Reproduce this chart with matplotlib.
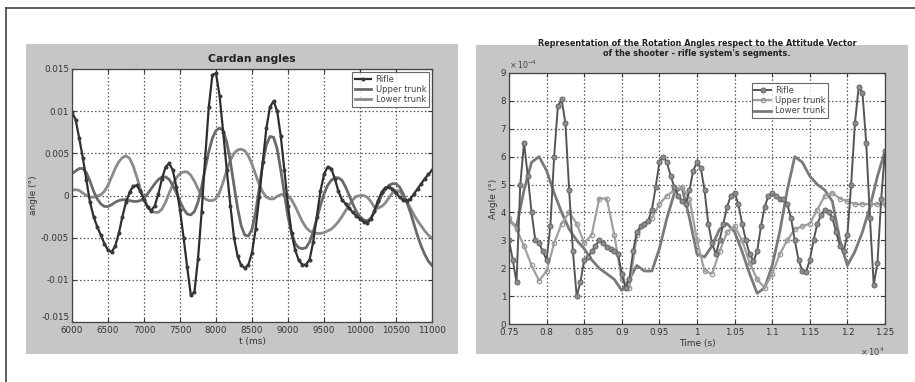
import matplotlib
matplotlib.use("Agg")
import matplotlib.pyplot as plt
from matplotlib.patches import Rectangle
from matplotlib.ticker import FuncFormatter
import numpy as np

plt.rcParams['font.family'] = ['DejaVu Sans']

# ---------------- Left chart data (Cardan angles) ----------------
left_t_start = 6000
left_t_step = 50
left_rifle = [
    0.0099, 0.0090, 0.0068, 0.0045, 0.0018, -0.0008, -0.0025, -0.0037, -0.0047, -0.0057,
    -0.0065, -0.0067, -0.0060, -0.0045, -0.0025, -0.0008, 0.0004, 0.0011, 0.0012, 0.0005,
    -0.0005, -0.0014, -0.0018, -0.0012, 0.0002, 0.0020, 0.0034, 0.0038, 0.0030, 0.0010,
    -0.0017, -0.0050, -0.0085, -0.0118, -0.0115, -0.0075, -0.0020, 0.0045, 0.0105, 0.0143,
    0.0145, 0.0118, 0.0075, 0.0030, -0.0012, -0.0050, -0.0072, -0.0083, -0.0086, -0.0082,
    -0.0068, -0.0040, -0.0002, 0.0040, 0.0080, 0.0105, 0.0112, 0.0100, 0.0070, 0.0030,
    -0.0012, -0.0045, -0.0065, -0.0077, -0.0082, -0.0082, -0.0076, -0.0055, -0.0025, 0.0005,
    0.0025, 0.0034, 0.0032, 0.0020, 0.0005, -0.0005, -0.0010, -0.0015, -0.0020, -0.0024,
    -0.0028, -0.0031, -0.0033, -0.0028, -0.0018, -0.0006, 0.0004, 0.0009, 0.0010, 0.0008,
    0.0003, -0.0002, -0.0005, -0.0006, -0.0004, 0.0002, 0.0008, 0.0014, 0.0020, 0.0025,
    0.0030]
left_upper = [
    0.0026, 0.0029, 0.0032, 0.0032, 0.0027, 0.0017, 0.0005, -0.0004, -0.0010, -0.0013,
    -0.0013, -0.0011, -0.0008, -0.0006, -0.0005, -0.0005, -0.0006, -0.0007, -0.0007, -0.0006,
    -0.0003, 0.0002, 0.0008, 0.0014, 0.0019, 0.0022, 0.0022, 0.0019, 0.0012, 0.0003,
    -0.0007, -0.0016, -0.0022, -0.0023, -0.0019, -0.0008, 0.0010, 0.0032, 0.0052, 0.0068,
    0.0077, 0.0080, 0.0077, 0.0063, 0.0040, 0.0012, -0.0015, -0.0036, -0.0047, -0.0048,
    -0.0040, -0.0020, 0.0008, 0.0038, 0.0060, 0.0070, 0.0069, 0.0055, 0.0030, 0.0002,
    -0.0025, -0.0045, -0.0057, -0.0062, -0.0063, -0.0062, -0.0055, -0.0043, -0.0028, -0.0012,
    0.0002, 0.0012, 0.0018, 0.0021, 0.0021, 0.0018, 0.0010, 0.0000, -0.0010, -0.0019,
    -0.0025, -0.0029, -0.0030, -0.0027, -0.0020, -0.0010, 0.0000, 0.0007, 0.0012, 0.0014,
    0.0014, 0.0010, 0.0002, -0.0008, -0.0020, -0.0034, -0.0048, -0.0060, -0.0070, -0.0078,
    -0.0083]
left_lower = [
    0.0006, 0.0007, 0.0006, 0.0003, 0.0000, -0.0002, -0.0002, -0.0001, 0.0001, 0.0005,
    0.0012, 0.0022, 0.0032, 0.0040, 0.0045, 0.0047, 0.0044, 0.0035, 0.0022, 0.0008,
    -0.0004, -0.0013, -0.0018, -0.0020, -0.0020, -0.0016, -0.0008, 0.0003, 0.0013, 0.0021,
    0.0026, 0.0028, 0.0028, 0.0024, 0.0017, 0.0008, 0.0000, -0.0004, -0.0006, -0.0006,
    -0.0004, 0.0004, 0.0016, 0.0030, 0.0042, 0.0050, 0.0054, 0.0055, 0.0053, 0.0047,
    0.0037, 0.0025, 0.0013, 0.0004, -0.0002, -0.0004, -0.0004, -0.0001, 0.0001, 0.0002,
    0.0000, -0.0005, -0.0013, -0.0022, -0.0031, -0.0038, -0.0042, -0.0044, -0.0045, -0.0045,
    -0.0044, -0.0042, -0.0040, -0.0036, -0.0031, -0.0025, -0.0018, -0.0011, -0.0005, -0.0001,
    0.0000, 0.0000, -0.0002, -0.0007, -0.0014, -0.0015, -0.0013, -0.0009, -0.0003, 0.0003,
    0.0006, 0.0005, 0.0000, -0.0007, -0.0015, -0.0023, -0.0030, -0.0036, -0.0042, -0.0047,
    -0.0051]
left_xticks = [6000, 6500, 7000, 7500, 8000, 8500, 9000, 9500, 10000, 10500, 11000]
left_yticks = [-0.015, -0.01, -0.005, 0, 0.005, 0.01, 0.015]
left_labels = ['Rifle', 'Upper trunk', 'Lower trunk']

# ---------------- Right chart data (x in 1e4 s, y in 1e-4 deg) ----------------
right_rifle_t0 = 0.75
right_rifle_step = 0.005
right_rifle = [
    3.0, 2.3, 1.5, 5.0, 6.5, 5.3, 4.0, 3.0, 2.9, 2.6,
    2.3, 3.5, 6.0, 7.8, 8.05, 7.2, 4.8, 2.6, 1.0, 1.5,
    2.3, 2.4, 2.6, 2.8, 3.0, 2.9, 2.75, 2.7, 2.6, 2.5,
    1.8, 1.3, 1.6, 2.6, 3.3, 3.5, 3.6, 3.7, 4.1, 4.9,
    5.8, 6.0, 5.8, 5.3, 4.9, 4.6, 4.4, 4.3, 4.8, 5.5,
    5.8, 5.6, 4.8, 3.6, 2.9, 2.5, 3.0, 3.6, 4.2, 4.6,
    4.7, 4.3, 3.6, 3.0, 2.5, 2.25, 2.6, 3.5, 4.2, 4.6,
    4.7, 4.6, 4.5, 4.5, 4.3, 3.8, 3.0, 2.3, 1.9, 1.85,
    2.3, 3.0, 3.6, 3.9, 4.1, 4.0, 3.8, 3.3, 2.8, 2.6,
    3.2, 5.0, 7.2, 8.5, 8.3, 6.5, 3.8, 1.4, 2.2, 4.5,
    6.2]
right_trunk_t0 = 0.75
right_trunk_step = 0.01
right_upper = [
    3.8, 3.4, 2.8, 2.1, 1.55, 1.9, 2.9, 3.6, 4.0, 3.6,
    2.9, 3.2, 4.5, 4.5, 3.2, 1.6, 1.3, 3.2, 3.6, 3.8,
    4.3, 4.6, 4.8, 4.9, 4.5, 3.0, 1.9, 1.8, 2.6, 3.3,
    3.5, 3.0, 2.2, 1.6, 1.3, 1.8, 2.5, 3.0, 3.4, 3.5,
    3.6, 4.1, 4.6, 4.7, 4.5, 4.4, 4.3, 4.3, 4.3, 4.3,
    4.3]
right_lower = [
    3.7, 3.5, 4.8, 5.8, 6.0, 5.5, 4.7, 4.0, 3.4, 3.0,
    2.7, 2.3, 2.0, 1.8, 1.6, 1.2, 1.6, 2.1, 1.9, 1.9,
    2.7, 3.8, 4.7, 4.9, 3.8, 2.5, 2.4, 2.8, 3.4, 3.6,
    3.3, 2.6, 1.8, 1.1, 1.3, 2.1, 3.3, 4.8, 6.0, 5.8,
    5.3, 5.0, 4.8, 4.4, 3.0, 2.1, 2.6, 3.3, 4.2, 5.3,
    6.2]
right_xticks = [0.75, 0.8, 0.85, 0.9, 0.95, 1.0, 1.05, 1.1, 1.15, 1.2, 1.25]
right_yticks = [0, 1, 2, 3, 4, 5, 6, 7, 8, 9]
right_labels = ['Rifle', 'Upper trunk', 'Lower trunk']

W, H = 915, 382
fig = plt.figure(figsize=(W / 100, H / 100), dpi=100, facecolor='white')


def fx(px):
    return px / W


def fy(py):
    return 1 - py / H


# outer frame lines
fig.add_artist(plt.Line2D([fx(6), fx(6)], [0, fy(8)], color='#444444', lw=1.2))
fig.add_artist(plt.Line2D([fx(6), 1.0], [fy(8), fy(8)], color='#444444', lw=1.2))

panel_grey = '#c6c6c6'
fig.add_artist(Rectangle((fx(26), fy(354)), fx(458) - fx(26), fy(44) - fy(354),
                         transform=fig.transFigure, facecolor=panel_grey, edgecolor='none', zorder=0))
fig.add_artist(Rectangle((fx(476), fy(354)), fx(908) - fx(476), fy(45) - fy(354),
                         transform=fig.transFigure, facecolor=panel_grey, edgecolor='none', zorder=0))

fmt_g = FuncFormatter(lambda v, p: '%g' % round(v, 6))


def style_axes(ax):
    ax.set_facecolor('white')
    ax.tick_params(direction='in', labelsize=6.3, colors='#333333', length=3,
                   top=True, right=True, pad=2)
    ax.tick_params(axis='x', pad=3)
    ax.grid(True, linestyle=(0, (1.2, 1.8)), color='#555555', lw=0.9)
    for s in ax.spines.values():
        s.set_color('#444444')
        s.set_linewidth(0.9)
    ax.set_axisbelow(True)


# ---------------- Left axes ----------------
axL = fig.add_axes([fx(72), fy(322), fx(432) - fx(72), fy(69) - fy(322)], zorder=2)
style_axes(axL)
tl = np.array([left_t_start + i * left_t_step for i in range(len(left_rifle))])
axL.plot(tl, left_lower, color='#8a8a8a', lw=2.0, label=left_labels[2])
axL.plot(tl, left_upper, color='#6a6a6a', lw=2.0, label=left_labels[1])
axL.plot(tl, left_rifle, color='#2e2e2e', lw=1.6, marker='o', ms=1.9,
         mfc='#3a3a3a', mec='#3a3a3a', label=left_labels[0])
axL.set_xlim(6000, 11000)
axL.set_ylim(-0.015, 0.015)
axL.set_xticks(left_xticks)
axL.set_yticks(left_yticks)
axL.xaxis.set_major_formatter(fmt_g)
axL.yaxis.set_major_formatter(fmt_g)
for lab in axL.get_yticklabels():
    if lab.get_text() == '-0.015':
        lab.set_va('bottom')
axL.set_title('Cardan angles', fontsize=7.8, fontweight='bold', color='#222222', pad=5)
axL.set_xlabel('t (ms)', fontsize=6.5, color='#333333', labelpad=1)
axL.set_ylabel('angle (°)', fontsize=6.5, color='#333333', labelpad=2)
h, l = axL.get_legend_handles_labels()
legL = axL.legend(h[::-1], l[::-1], loc='upper right', fontsize=6, frameon=True,
                  fancybox=False, edgecolor='#444444', borderpad=0.3, labelspacing=0.15,
                  handlelength=2.0, handletextpad=0.5, borderaxespad=0.4)
legL.get_frame().set_linewidth(0.8)
for t in legL.get_texts():
    t.set_color('#444444')

# ---------------- Right axes ----------------
axR = fig.add_axes([fx(509), fy(324), fx(885) - fx(509), fy(73) - fy(324)], zorder=2)
style_axes(axR)
tr = np.array([right_rifle_t0 + i * right_rifle_step for i in range(len(right_rifle))])
tt = np.array([right_trunk_t0 + i * right_trunk_step for i in range(len(right_upper))])
axR.plot(tt, right_lower, color='#7a7a7a', lw=2.0, label=right_labels[2])
axR.plot(tt, right_upper, color='#a0a0a0', lw=1.6, marker='o', ms=3.2,
         mfc='none', mec='#999999', mew=0.9, label=right_labels[1])
axR.plot(tr, right_rifle, color='#555555', lw=1.4, marker='o', ms=3.6,
         mfc='#8c8c8c', mec='#666666', mew=0.7, label=right_labels[0])
axR.set_xlim(0.75, 1.25)
axR.set_ylim(0, 9)
axR.set_xticks(right_xticks)
axR.set_yticks(right_yticks)
axR.xaxis.set_major_formatter(fmt_g)
axR.yaxis.set_major_formatter(fmt_g)
axR.set_title('Representation of the Rotation Angles respect to the Attitude Vector\n'
              "of the shooter - rifle system's segments.",
              fontsize=5.9, fontweight='bold', color='#222222', pad=12, linespacing=1.2)
axR.set_xlabel('Time (s)', fontsize=6.5, color='#333333', labelpad=1)
axR.set_ylabel('Angle (°)', fontsize=6.5, color='#333333', labelpad=2)
axR.text(0.0, 1.006, r'$\times\,10^{-4}$', transform=axR.transAxes, fontsize=5.8,
         color='#444444', ha='left', va='bottom')
axR.text(1.0, -0.085, r'$\times\,10^{4}$', transform=axR.transAxes, fontsize=6,
         color='#444444', ha='right', va='top')
h, l = axR.get_legend_handles_labels()
legR = axR.legend(h[::-1], l[::-1], loc='upper right', bbox_to_anchor=(0.86, 0.975),
                  fontsize=6, frameon=True, fancybox=False, edgecolor='#444444',
                  borderpad=0.3, labelspacing=0.15, handlelength=2.0, handletextpad=0.5)
legR.get_frame().set_linewidth(0.8)
for t in legR.get_texts():
    t.set_color('#444444')

fig.savefig('out.png', dpi=100, facecolor='white')
